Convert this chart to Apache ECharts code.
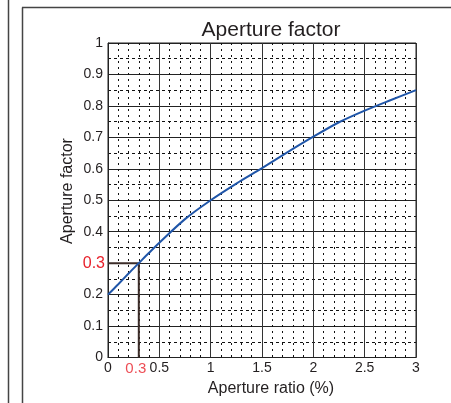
<!DOCTYPE html>
<html>
<head>
<meta charset="utf-8">
<script src="https://cdn.jsdelivr.net/npm/echarts@6/dist/echarts.min.js"></script>
<style>
  html, body { margin: 0; padding: 0; background: #fff; }
  #chart { width: 451px; height: 403px; }
</style>
</head>
<body>
<div id="chart"></div>
<script>
// aperture ratio (%) and the read-off aperture factor
var ratio = [0, 0.1, 0.2, 0.3, 0.4, 0.5, 0.75, 1, 1.25, 1.5, 1.75, 2, 2.25, 2.5, 2.75, 3];
var factor = [0.2, 0.233, 0.267, 0.3, 0.333, 0.365, 0.44, 0.5, 0.553, 0.602, 0.653, 0.702, 0.748, 0.785, 0.818, 0.85];
// the example reading at 0.3 %
var markX = 0.3;
var markY = 0.3;

var font = "Liberation Sans";
var chart = echarts.init(document.getElementById("chart"));

chart.setOption({
  animation: false,
  title: {
    text: "Aperture factor",
    left: 266,
    top: 15,
    textAlign: "center",
    textStyle: { fontFamily: font, fontSize: 21, fontWeight: "normal", color: "#231f20" }
  },
  grid: {
    left: 108, right: 35, top: 43, bottom: 45.5,
    show: true, borderColor: "#222", borderWidth: 1
  },
  xAxis: {
    type: "value",
    min: 0, max: 3, interval: 0.5,
    name: "Aperture ratio (%)",
    nameLocation: "middle",
    nameGap: 22,
    nameTextStyle: { fontFamily: font, fontSize: 16, color: "#231f20", padding: [0, 0, 0, 18] },
    axisLine: { show: true, lineStyle: { color: "#222", width: 1 } },
    axisTick: { show: false },
    axisLabel: { fontFamily: font, fontSize: 14, color: "#231f20", margin: 4 },
    splitLine: { show: true, lineStyle: { color: "#333", width: 1 } },
    minorTick: { show: false, splitNumber: 5 },
    minorSplitLine: { show: true, lineStyle: { color: "#111", width: 1, type: [2, 4] } }
  },
  yAxis: {
    type: "value",
    min: 0, max: 1, interval: 0.1,
    axisLine: { show: true, lineStyle: { color: "#222", width: 1 } },
    axisTick: { show: false },
    axisLabel: {
      fontFamily: font, fontSize: 14, margin: 5,
      formatter: function (v) { return v === markY ? "{r|" + v + "}" : String(v); },
      color: "#231f20",
      rich: { r: { fontFamily: font, fontSize: 16, color: "#e8202a", padding: [0, -2, 0, 0] } }
    },
    splitLine: { show: true, lineStyle: { color: "#222", width: 1 } },
    minorTick: { show: false, splitNumber: 2 },
    minorSplitLine: { show: true, lineStyle: { color: "#111", width: 1, type: [3, 3] } }
  },
  graphic: [
    { type: "line", shape: { x1: 8.5, y1: 0, x2: 8.5, y2: 403 }, style: { stroke: "#444", lineWidth: 1.5 } },
    { type: "line", shape: { x1: 22.5, y1: 7.5, x2: 22.5, y2: 403 }, style: { stroke: "#444", lineWidth: 1.5 } },
    { type: "line", shape: { x1: 22, y1: 7.5, x2: 451, y2: 7.5 }, style: { stroke: "#444", lineWidth: 1.5 } },
    // y axis title
    {
      type: "text", x: 68, y: 191, rotation: Math.PI / 2,
      style: {
        text: "Aperture factor", fontFamily: font, fontSize: 16, fill: "#231f20",
        align: "center", verticalAlign: "middle"
      }
    }
  ],
  series: [
    {
      type: "line",
      data: [[0, markY], [markX, markY], [markX, 0]],
      symbol: "none",
      lineStyle: { color: "#3b2c28", width: 2 },
      z: 3
    },
    {
      type: "line",
      data: ratio.map(function (x, i) { return [x, factor[i]]; }),
      smooth: 0.3,
      symbol: "none",
      lineStyle: { color: "#1f55a8", width: 2 },
      z: 4
    },
    {
      type: "scatter",
      data: [[markX, 0]],
      symbol: "circle",
      symbolSize: 1,
      itemStyle: { color: "rgba(0,0,0,0)" },
      label: {
        show: true, position: "bottom", distance: 3, offset: [-3, 0],
        formatter: String(markX),
        fontFamily: font, fontSize: 15, color: "#e8202a"
      },
      z: 5
    }
  ]
});
</script>
</body>
</html>
